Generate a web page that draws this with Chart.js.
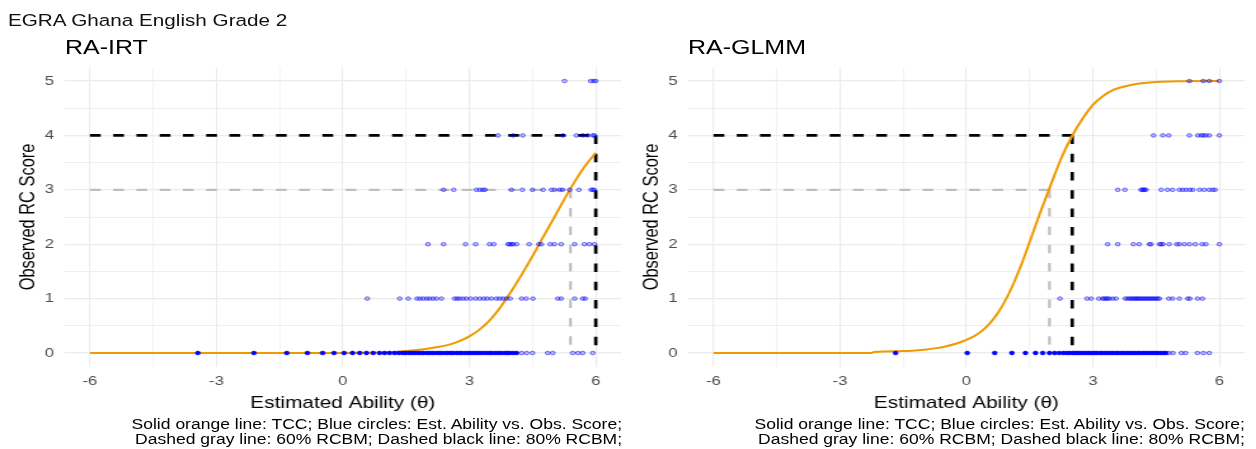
<!DOCTYPE html>
<html><head><meta charset="utf-8">
<script src="https://cdn.jsdelivr.net/npm/chart.js@4.4.1/dist/chart.umd.min.js"></script>
<style>
html,body{margin:0;padding:0;background:#fff;width:1256px;height:449px;overflow:hidden;}
#stage{position:absolute;left:0;top:0;width:989px;height:449px;transform:scaleX(1.27);transform-origin:0 0;font-family:"Liberation Sans",Arial,sans-serif;}
canvas{position:absolute;top:0;}
.t{position:absolute;white-space:nowrap;color:#000;}
.cap{font-size:13.8px;line-height:15px;text-align:right;color:#000;}
</style></head>
<body><div id="stage">
<div class="t" style="left:6.3px;top:11.5px;font-size:16.3px;line-height:16.3px;color:#111;">EGRA Ghana English Grade 2</div>
<div class="t" style="left:51.2px;top:38px;font-size:19.7px;line-height:19.7px;">RA-IRT</div>
<div class="t" style="left:541.7px;top:38px;font-size:19.7px;line-height:19.7px;">RA-GLMM</div>
<canvas id="c1" width="494" height="449" style="left:0px"></canvas>
<canvas id="c2" width="494" height="449" style="left:491.4px"></canvas>
<div class="t cap" style="left:0px;width:489.8px;top:417px;">Solid orange line: TCC; Blue circles: Est. Ability vs. Obs. Score;<br>Dashed gray line: 60% RCBM; Dashed black line: 80% RCBM;</div>
<div class="t cap" style="left:491.4px;width:488.9px;top:417px;">Solid orange line: TCC; Blue circles: Est. Ability vs. Obs. Score;<br>Dashed gray line: 60% RCBM; Dashed black line: 80% RCBM;</div>
</div>
<script>
// ---- axis ticks ----
const xMajorTicks = [-6, -3, 0, 3, 6];
const xMinorTicks = [-4.5, -1.5, 1.5, 4.5];
const yMajorTicks = [0, 1, 2, 3, 4, 5];
const yMinorTicks = [0.5, 1.5, 2.5, 3.5, 4.5];
const cutScores = [3, 4]; // 60% RCBM, 80% RCBM

// ---- RA-IRT ----
const irtTheta = [-6, -4, -2, 0, 0.5, 1, 1.25, 1.5, 1.75, 2, 2.25, 2.5, 2.75, 3, 3.25, 3.5, 3.75, 4, 4.25, 4.5, 4.75, 5, 5.25, 5.5, 5.75, 6];
const irtTCC   = [0, 0, 0, 0, 0.004, 0.01, 0.02, 0.035, 0.055, 0.08, 0.11, 0.15, 0.215, 0.305, 0.435, 0.615, 0.855, 1.14, 1.45, 1.78, 2.13, 2.47, 2.82, 3.15, 3.44, 3.68];
const irtCutTheta = [5.40, 6.00];
const irtS0Dark = [-3.44, -2.11, -1.33, -0.84, -0.48, -0.21, 0.03, 0.23, 0.40, 0.56, 0.72, 0.87, 0.99, 1.11, 1.23, 1.33, 1.42, 1.49, 1.57, 1.63, 1.70, 1.78, 1.84, 1.91, 1.99, 2.05, 2.12, 2.20, 2.27, 2.33, 2.41, 2.48, 2.55, 2.61, 2.69, 2.76, 2.82, 2.90, 2.97, 3.04, 3.11, 3.18, 3.25, 3.32, 3.40, 3.47, 3.53, 3.61, 3.68, 3.75, 3.83, 3.90, 3.96, 4.04, 4.12];
const irtS0 = [4.24, 4.36, 4.50, 4.86, 4.98, 5.45, 5.58, 5.69, 5.93];
const irtS1 = [0.58, 1.35, 1.55, 1.76, 1.83, 1.91, 1.99, 2.06, 2.14, 2.22, 2.34, 2.65, 2.71, 2.77, 2.85, 2.93, 3.03, 3.15, 3.25, 3.34, 3.42, 3.52, 3.64, 3.72, 3.80, 3.88, 3.97, 4.24, 4.35, 4.51, 5.10, 5.18, 5.50, 5.69, 5.75];
const irtS2 = [2.02, 2.39, 2.91, 3.15, 3.48, 3.58, 3.92, 3.96, 4.00, 4.04, 4.12, 4.42, 4.65, 4.71, 4.92, 5.02, 5.18, 5.50, 5.73, 5.85, 5.97];
const irtS3 = [2.39, 2.63, 3.17, 3.25, 3.32, 3.37, 4.00, 4.26, 4.50, 4.75, 4.95, 5.02, 5.14, 5.21, 5.38, 5.60, 5.89, 5.93, 5.96];
const irtS4 = [3.68, 4.04, 4.27, 5.22, 5.54, 5.69, 5.81, 5.93, 5.97];
const irtS5 = [5.26, 5.88, 5.95, 6.00];

// ---- RA-GLMM ----
const glmmTheta = [-6, -2.25, -2.2, -1.5, -1, -0.75, -0.5, -0.25, 0, 0.25, 0.5, 0.75, 1, 1.25, 1.5, 1.75, 2, 2.25, 2.5, 2.75, 3, 3.25, 3.5, 3.75, 4, 4.5, 5, 6];
const glmmTCC   = [0, 0, 0.02, 0.035, 0.06, 0.085, 0.12, 0.17, 0.24, 0.34, 0.50, 0.74, 1.08, 1.52, 2.04, 2.58, 3.09, 3.58, 3.98, 4.30, 4.56, 4.73, 4.84, 4.90, 4.94, 4.98, 4.995, 5.0];
const glmmCutTheta = [1.97, 2.51];
const glmmS0Dark = [-1.68, 0.02, 0.67, 1.08, 1.40, 1.64, 1.81, 1.97, 2.09, 2.20, 2.30, 2.38, 2.45, 2.52, 2.58, 2.64, 2.70, 2.77, 2.83, 2.90, 2.96, 3.03, 3.09, 3.16, 3.22, 3.29, 3.35, 3.42, 3.48, 3.55, 3.61, 3.68, 3.74, 3.81, 3.87, 3.94, 4.00, 4.07, 4.13, 4.20, 4.26, 4.33, 4.40, 4.46, 4.53, 4.60, 4.67, 4.73];
const glmmS0 = [4.80, 4.90, 5.10, 5.20, 5.48, 5.62, 5.76];
const glmmS1 = [2.22, 2.86, 2.96, 3.14, 3.23, 3.27, 3.31, 3.35, 3.39, 3.47, 3.55, 3.77, 3.82, 3.87, 3.91, 3.95, 3.99, 4.03, 4.06, 4.10, 4.14, 4.18, 4.22, 4.26, 4.30, 4.34, 4.38, 4.42, 4.46, 4.50, 4.54, 4.58, 4.80, 4.89, 5.05, 5.25, 5.30, 5.48, 5.60];
const glmmS2 = [3.35, 3.59, 3.96, 4.10, 4.34, 4.38, 4.58, 4.62, 4.66, 4.81, 4.99, 5.05, 5.17, 5.29, 5.43, 5.59, 5.68, 6.00];
const glmmS3 = [3.59, 3.76, 4.14, 4.18, 4.20, 4.23, 4.26, 4.62, 4.77, 4.89, 5.05, 5.13, 5.21, 5.30, 5.37, 5.53, 5.64, 5.76, 5.84, 5.90];
const glmmS4 = [4.44, 4.66, 4.80, 5.29, 5.49, 5.57, 5.62, 5.68, 5.76, 6.00];
const glmmS5 = [5.29, 5.62, 5.76, 6.00];

Chart.defaults.font.family = "'Liberation Sans', Arial, sans-serif";

const pts = (xs, y) => xs.map(x => ({x: x, y: y}));
const isMajorX = v => xMajorTicks.includes(v);
const isMajorY = v => yMajorTicks.includes(v);
const dash = [8.5, 9.8];

function makePanel(id, theta, tcc, cutTheta, darkX, scoreLists) {
  const light = [];
  scoreLists.forEach((xs, s) => light.push(...pts(xs, s)));
  const xMin = xMajorTicks[0] - 0.6, xMax = xMajorTicks[xMajorTicks.length - 1] + 0.6;
  const yMin = yMajorTicks[0] - 0.25, yMax = yMajorTicks[yMajorTicks.length - 1] + 0.25;
  new Chart(document.getElementById(id), {
    type: 'scatter',
    data: {
      datasets: [
        {data: pts(darkX, 0), pointRadius: 1.9, backgroundColor: '#0000FF', borderColor: '#0000FF', borderWidth: 0.6},
        {data: light, pointRadius: 1.8, backgroundColor: 'rgba(0,0,255,0.22)', borderColor: 'rgba(0,0,255,0.55)', borderWidth: 1},
        {data: theta.map((t, i) => ({x: t, y: tcc[i]})), showLine: true, pointRadius: 0, borderColor: '#EE9A00', borderWidth: 2, cubicInterpolationMode: 'monotone', fill: false},
        {data: [{x: xMajorTicks[0], y: cutScores[1]}, {x: cutTheta[1], y: cutScores[1]}], showLine: true, pointRadius: 0, borderColor: '#000000', borderWidth: 2.7, borderDash: dash},
        {data: [{x: cutTheta[1], y: cutScores[1]}, {x: cutTheta[1], y: 0}], showLine: true, pointRadius: 0, borderColor: '#000000', borderWidth: 2.7, borderDash: dash},
        {data: [{x: xMajorTicks[0], y: cutScores[0]}, {x: cutTheta[0], y: cutScores[0]}], showLine: true, pointRadius: 0, borderColor: '#BEBEBE', borderWidth: 2.2, borderDash: dash},
        {data: [{x: cutTheta[0], y: cutScores[0]}, {x: cutTheta[0], y: 0}], showLine: true, pointRadius: 0, borderColor: '#BEBEBE', borderWidth: 2.2, borderDash: dash}
      ]
    },
    options: {
      responsive: false, animation: false,
      layout: {padding: {left: 0, right: 4.7, top: 67.4, bottom: 0}},
      plugins: {legend: {display: false}, tooltip: {enabled: false}, title: {display: false}},
      scales: {
        x: {
          type: 'linear', min: xMin, max: xMax,
          afterBuildTicks: s => { s.ticks = xMajorTicks.concat(xMinorTicks).sort((a, b) => a - b).map(v => ({value: v})); },
          afterFit: s => { s.height = 82.4; },
          ticks: {autoSkip: false, maxRotation: 0, padding: 6.5, color: '#4D4D4D', font: {size: 13.1}, callback: v => isMajorX(v) ? String(v) : ''},
          title: {display: true, text: 'Estimated Ability (θ)', color: '#000', font: {size: 16.4}, padding: {top: 0, bottom: 36}},
          grid: {drawTicks: false, color: '#EBEBEB', lineWidth: c => (c.tick && isMajorX(c.tick.value)) ? 1.1 : 0.6},
          border: {display: false}
        },
        y: {
          type: 'linear', min: yMin, max: yMax,
          afterBuildTicks: s => { s.ticks = yMajorTicks.concat(yMinorTicks).sort((a, b) => a - b).map(v => ({value: v})); },
          afterFit: s => { s.width = 50.9; },
          ticks: {autoSkip: false, padding: 8.4, color: '#4D4D4D', font: {size: 13.1}, callback: v => isMajorY(v) ? String(v) : ''},
          title: {display: true, text: 'Observed RC Score', color: '#000', font: {size: 16.4}, padding: {top: 13, bottom: 0}},
          grid: {drawTicks: false, color: '#EBEBEB', lineWidth: c => (c.tick && isMajorY(c.tick.value)) ? 1.3 : 0.8},
          border: {display: false}
        }
      }
    }
  });
}

makePanel('c1', irtTheta, irtTCC, irtCutTheta, irtS0Dark, [irtS0, irtS1, irtS2, irtS3, irtS4, irtS5]);
makePanel('c2', glmmTheta, glmmTCC, glmmCutTheta, glmmS0Dark, [glmmS0, glmmS1, glmmS2, glmmS3, glmmS4, glmmS5]);
</script>
</body></html>
